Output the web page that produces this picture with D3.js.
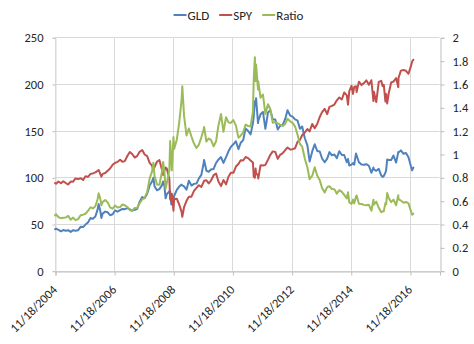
<!DOCTYPE html>
<html>
<head>
<meta charset="utf-8">
<script src="https://cdn.jsdelivr.net/npm/d3@7"></script>
<style>
  html, body { margin: 0; padding: 0; background: #fff; }
  svg { display: block; font-family: Carlito, Calibri, Lato, sans-serif; }
</style>
</head>
<body>
<svg id="chart" width="474" height="344"></svg>
<script>
// Observation dates (month ends plus notable highs/lows)
const dates = [
  "2004-11-18","2004-11-30","2004-12-31","2005-01-31","2005-02-28","2005-03-31","2005-04-29","2005-05-31",
  "2005-06-30","2005-07-29","2005-08-31","2005-09-30","2005-10-31","2005-11-30","2005-12-30","2006-01-31",
  "2006-02-28","2006-03-31","2006-04-28","2006-05-11","2006-05-31","2006-06-14","2006-06-30","2006-07-31",
  "2006-08-31","2006-09-29","2006-10-31","2006-11-30","2006-12-29","2007-01-31","2007-02-28","2007-03-30",
  "2007-04-30","2007-05-31","2007-06-29","2007-07-31","2007-08-31","2007-09-28","2007-10-31","2007-11-30",
  "2007-12-31","2008-01-31","2008-02-29","2008-03-17","2008-03-31","2008-04-30","2008-05-30","2008-06-30",
  "2008-07-15","2008-07-31","2008-08-15","2008-08-29","2008-09-30","2008-10-10","2008-10-24","2008-10-31",
  "2008-11-20","2008-11-28","2008-12-31","2009-01-30","2009-02-27","2009-03-09","2009-03-31","2009-04-30",
  "2009-05-29","2009-06-30","2009-07-31","2009-08-31","2009-09-30","2009-10-30","2009-11-30","2009-12-03",
  "2009-12-31","2010-01-29","2010-02-26","2010-03-31","2010-04-30","2010-05-28","2010-06-30","2010-07-30",
  "2010-08-31","2010-09-30","2010-10-29","2010-11-30","2010-12-31","2011-01-31","2011-02-28","2011-03-31",
  "2011-04-29","2011-05-31","2011-06-30","2011-07-29","2011-08-08","2011-08-22","2011-08-31","2011-09-06",
  "2011-09-30","2011-10-03","2011-10-31","2011-11-30","2011-12-30","2012-01-31","2012-02-29","2012-03-30",
  "2012-04-30","2012-05-31","2012-06-29","2012-07-31","2012-08-31","2012-09-28","2012-10-31","2012-11-30",
  "2012-12-31","2013-01-31","2013-02-28","2013-03-28","2013-04-30","2013-05-31","2013-06-28","2013-07-31",
  "2013-08-30","2013-09-30","2013-10-31","2013-11-29","2013-12-31","2014-01-31","2014-02-28","2014-03-31",
  "2014-04-30","2014-05-30","2014-06-30","2014-07-31","2014-08-29","2014-09-30","2014-10-15","2014-10-31",
  "2014-11-28","2014-12-16","2014-12-31","2015-01-22","2015-01-30","2015-02-27","2015-03-31","2015-04-30",
  "2015-05-29","2015-06-30","2015-07-31","2015-08-25","2015-08-31","2015-09-29","2015-10-30","2015-11-30",
  "2015-12-17","2015-12-31","2016-01-20","2016-01-29","2016-02-11","2016-02-29","2016-03-31","2016-04-29",
  "2016-05-31","2016-06-27","2016-06-30","2016-07-29","2016-08-31","2016-09-30","2016-10-31","2016-11-30",
  "2016-12-15","2016-12-30"
];

// GLD price (left axis)
const gld = [
  44.4,45.1,43.8,42.2,43.5,42.8,43.4,41.6,
  43.4,42.8,43.4,47.0,46.7,49.4,51.6,56.4,
  55.5,58.1,65.4,71.5,64.2,56.5,61.2,63.3,
  62.6,59.4,60.4,64.5,63.2,64.8,66.1,65.9,
  67.0,65.8,64.3,65.2,66.3,73.5,78.9,77.7,
  82.5,91.3,95.5,99.5,90.4,86.2,87.4,91.4,
  95.6,90.9,77.5,81.9,85.0,85.0,71.0,70.9,
  73.5,80.0,86.5,90.1,92.2,91.3,90.4,86.7,
  96.4,91.2,93.0,93.3,98.9,102.6,116.1,118.6,
  107.3,106.0,108.3,109.0,115.4,118.9,121.7,115.5,
  121.6,127.9,132.6,135.4,138.7,130.3,137.0,139.9,
  152.4,149.6,146.0,158.0,165.0,181.4,177.7,184.6,
  158.1,160.4,167.5,170.1,152.0,169.4,171.9,162.1,
  161.9,151.2,155.2,156.2,162.6,171.9,166.1,165.0,
  162.0,160.7,152.1,154.5,141.9,134.6,117.0,128.0,
  135.4,128.2,127.7,120.2,116.1,120.1,127.0,123.6,
  124.4,120.5,128.0,124.0,123.9,116.2,119.6,112.7,
  113.6,115.3,113.6,125.6,123.4,116.2,113.7,113.4,
  114.1,112.4,104.9,110.5,108.4,107.0,109.1,101.9,
  100.5,101.5,105.0,107.7,119.1,118.6,118.6,123.4,
  115.8,127.0,126.5,128.9,125.2,126.1,121.6,111.8,
  107.5,110.5
];

// SPY price, dividend adjusted (left axis)
const spy = [
  93.9,93.2,95.6,93.7,95.8,93.9,92.3,95.5,
  95.4,98.8,98.1,99.0,97.2,101.2,100.5,103.7,
  104.2,105.3,106.9,107.9,103.8,100.8,103.7,104.6,
  107.1,109.4,113.5,115.5,116.5,118.8,116.6,117.4,
  122.8,127.1,125.0,121.2,123.0,127.3,129.3,124.5,
  122.7,115.4,112.5,107.6,111.1,116.7,118.6,108.4,
  102.6,107.3,110.4,109.4,98.6,76.5,74.7,82.4,
  64.2,76.7,77.1,70.9,63.3,57.8,68.2,74.8,
  79.1,79.3,85.4,88.7,91.5,89.8,95.5,96.3,
  96.9,93.5,96.6,102.3,104.1,95.9,90.6,97.1,
  92.5,100.6,104.8,104.9,111.6,114.3,118.4,118.1,
  121.8,120.6,118.1,116.0,100.7,99.6,109.5,104.5,
  101.8,98.8,113.0,112.7,113.3,118.8,124.1,127.8,
  127.2,119.8,124.1,125.9,129.2,132.0,129.8,130.2,
  131.2,138.2,140.1,145.1,148.0,151.8,149.2,157.2,
  152.7,157.1,164.6,169.8,173.4,167.7,175.5,176.5,
  177.9,182.5,185.5,183.4,190.9,187.7,177.8,192.4,
  198.1,189.4,196.9,197.6,191.3,202.5,198.8,201.0,
  203.9,199.1,204.0,181.7,191.8,180.6,202.3,203.3,
  197.7,199.0,181.3,189.4,179.1,189.5,201.6,202.6,
  206.4,196.6,206.4,214.3,215.0,214.1,210.9,219.1,
  224.0,226.0
];

// GLD / SPY ratio (right axis)
const ratio = [
  0.473,0.484,0.458,0.450,0.454,0.456,0.470,0.436,
  0.455,0.433,0.442,0.475,0.480,0.488,0.513,0.544,
  0.533,0.552,0.612,0.663,0.618,0.561,0.590,0.605,
  0.585,0.543,0.532,0.558,0.542,0.545,0.567,0.561,
  0.546,0.518,0.514,0.538,0.539,0.577,0.610,0.624,
  0.672,0.791,0.849,0.925,0.814,0.739,0.737,0.843,
  0.932,0.847,0.702,0.749,0.862,1.111,0.950,0.860,
  1.145,1.043,1.122,1.271,1.456,1.580,1.325,1.159,
  1.219,1.150,1.089,1.052,1.081,1.143,1.216,1.232,
  1.107,1.133,1.121,1.065,1.109,1.240,1.343,1.190,
  1.315,1.271,1.266,1.291,1.243,1.140,1.157,1.185,
  1.251,1.240,1.236,1.362,1.638,1.830,1.623,1.766,
  1.553,1.623,1.482,1.509,1.342,1.426,1.385,1.268,
  1.273,1.262,1.251,1.241,1.258,1.302,1.280,1.267,
  1.235,1.163,1.086,1.065,0.959,0.887,0.784,0.814,
  0.887,0.816,0.776,0.708,0.670,0.716,0.724,0.700,
  0.699,0.660,0.690,0.676,0.649,0.619,0.673,0.586,
  0.573,0.609,0.577,0.636,0.645,0.574,0.572,0.564,
  0.560,0.565,0.514,0.608,0.565,0.592,0.539,0.501,
  0.508,0.510,0.579,0.569,0.665,0.626,0.588,0.609,
  0.561,0.646,0.613,0.601,0.582,0.589,0.577,0.510,
  0.480,0.489
];

// Axis ticks
const xTickDates = ["2004-11-18","2006-11-18","2008-11-18","2010-11-18","2012-11-18","2014-11-18","2016-11-18"];
const xDomain = ["2004-11-18","2017-11-18"];
const leftTicks = [0, 50, 100, 150, 200, 250];
const rightTicks = [0, 0.2, 0.4, 0.6, 0.8, 1, 1.2, 1.4, 1.6, 1.8, 2];

const seriesNames = ["GLD", "SPY", "Ratio"];
const seriesColors = ["#4f81bd", "#c0504d", "#9bbb59"];

const parse = d3.timeParse("%Y-%m-%d");
const fmtDate = d3.timeFormat("%m/%d/%Y");

const plot = { left: 55, right: 439.5, top: 37.3, bottom: 270.7 };

const svg = d3.select("#chart");

const x = d3.scaleTime().domain(xDomain.map(parse)).range([plot.left, plot.right]);
const yL = d3.scaleLinear().domain([0, 250]).range([plot.bottom, plot.top]);
const yR = d3.scaleLinear().domain([0, 2]).range([plot.bottom, plot.top]);

const gridColor = "#d9d9d9";
const axisColor = "#bfbfbf";
const textColor = "#262626";

// Horizontal gridlines
svg.append("g").selectAll("line").data(leftTicks).join("line")
  .attr("x1", plot.left).attr("x2", plot.right)
  .attr("y1", d => Math.round(yL(d)) + 0.5).attr("y2", d => Math.round(yL(d)) + 0.5)
  .attr("stroke", gridColor).attr("stroke-width", 1);

// Vertical gridlines
svg.append("g").selectAll("line").data(xTickDates.map(parse)).join("line")
  .attr("x1", d => Math.round(x(d)) + 0.5).attr("x2", d => Math.round(x(d)) + 0.5)
  .attr("y1", plot.top).attr("y2", plot.bottom)
  .attr("stroke", gridColor).attr("stroke-width", 1);

// Left axis
const leftAxis = d3.axisLeft(yL).tickValues(leftTicks).tickSize(3).tickPadding(9).tickFormat(d3.format("d"));
const gL = svg.append("g").attr("transform", `translate(${plot.left + 0.5},0.5)`).call(leftAxis);
gL.select(".domain").attr("stroke", gridColor);
gL.selectAll(".tick line").attr("stroke", axisColor);
gL.selectAll("text").attr("fill", textColor).attr("font-size", 12.5).attr("font-family", "Carlito, Calibri, Lato, sans-serif");

// Right axis
const rightAxis = d3.axisRight(yR).tickValues(rightTicks).tickSize(4).tickPadding(8)
  .tickFormat(d => String(+d.toFixed(1)));
const gR = svg.append("g").attr("transform", `translate(${Math.round(plot.right) + 0.5},0.5)`).call(rightAxis);
gR.select(".domain").attr("stroke", axisColor);
gR.selectAll(".tick line").attr("stroke", axisColor);
gR.selectAll("text").attr("fill", textColor).attr("font-size", 12.5).attr("font-family", "Carlito, Calibri, Lato, sans-serif");

// Bottom axis
const bottomAxis = d3.axisBottom(x).tickValues(xTickDates.map(parse)).tickSize(4).tickFormat(fmtDate);
const gB = svg.append("g").attr("transform", `translate(0.5,${Math.round(plot.bottom) + 0.5})`).call(bottomAxis);
gB.select(".domain").attr("stroke", axisColor);
gB.selectAll(".tick line").attr("stroke", axisColor);
gB.selectAll("text")
  .attr("fill", textColor).attr("font-size", 12.5).attr("font-family", "Carlito, Calibri, Lato, sans-serif")
  .attr("text-anchor", "end")
  .attr("x", 0).attr("y", 0).attr("dy", null)
  .attr("transform", "translate(2,19) rotate(-45)");

// Series lines
const points = dates.map(parse);
const lineL = d3.line().x((d, i) => x(points[i])).y(d => yL(d));
const lineR = d3.line().x((d, i) => x(points[i])).y(d => yR(d));

const lines = svg.append("g").attr("fill", "none").attr("stroke-width", 2)
  .attr("stroke-linejoin", "round").attr("stroke-linecap", "round");
lines.append("path").datum(gld).attr("d", lineL).attr("stroke", seriesColors[0]);
lines.append("path").datum(spy).attr("d", lineL).attr("stroke", seriesColors[1]);
lines.append("path").datum(ratio).attr("d", lineR).attr("stroke", seriesColors[2]);

// Legend
const legend = svg.append("g");
const swatch = 13, gap = 10, legendY = 15, legendCenter = 238.5;
const items = legend.selectAll("g").data(seriesNames).join("g");
items.append("line").attr("x1", 0).attr("x2", swatch).attr("y1", legendY).attr("y2", legendY)
  .attr("stroke", (d, i) => seriesColors[i]).attr("stroke-width", 2);
items.append("text").attr("x", swatch + 1).attr("y", legendY + 4.5)
  .attr("font-size", 13).attr("fill", textColor).text(d => d);
let widths = [];
items.each(function () { widths.push(swatch + 1 + this.querySelector("text").getComputedTextLength()); });
const total = d3.sum(widths) + gap * (widths.length - 1);
let cx = legendCenter - total / 2;
items.attr("transform", (d, i) => { const t = `translate(${cx},0)`; cx += widths[i] + gap; return t; });
</script>
</body>
</html>
